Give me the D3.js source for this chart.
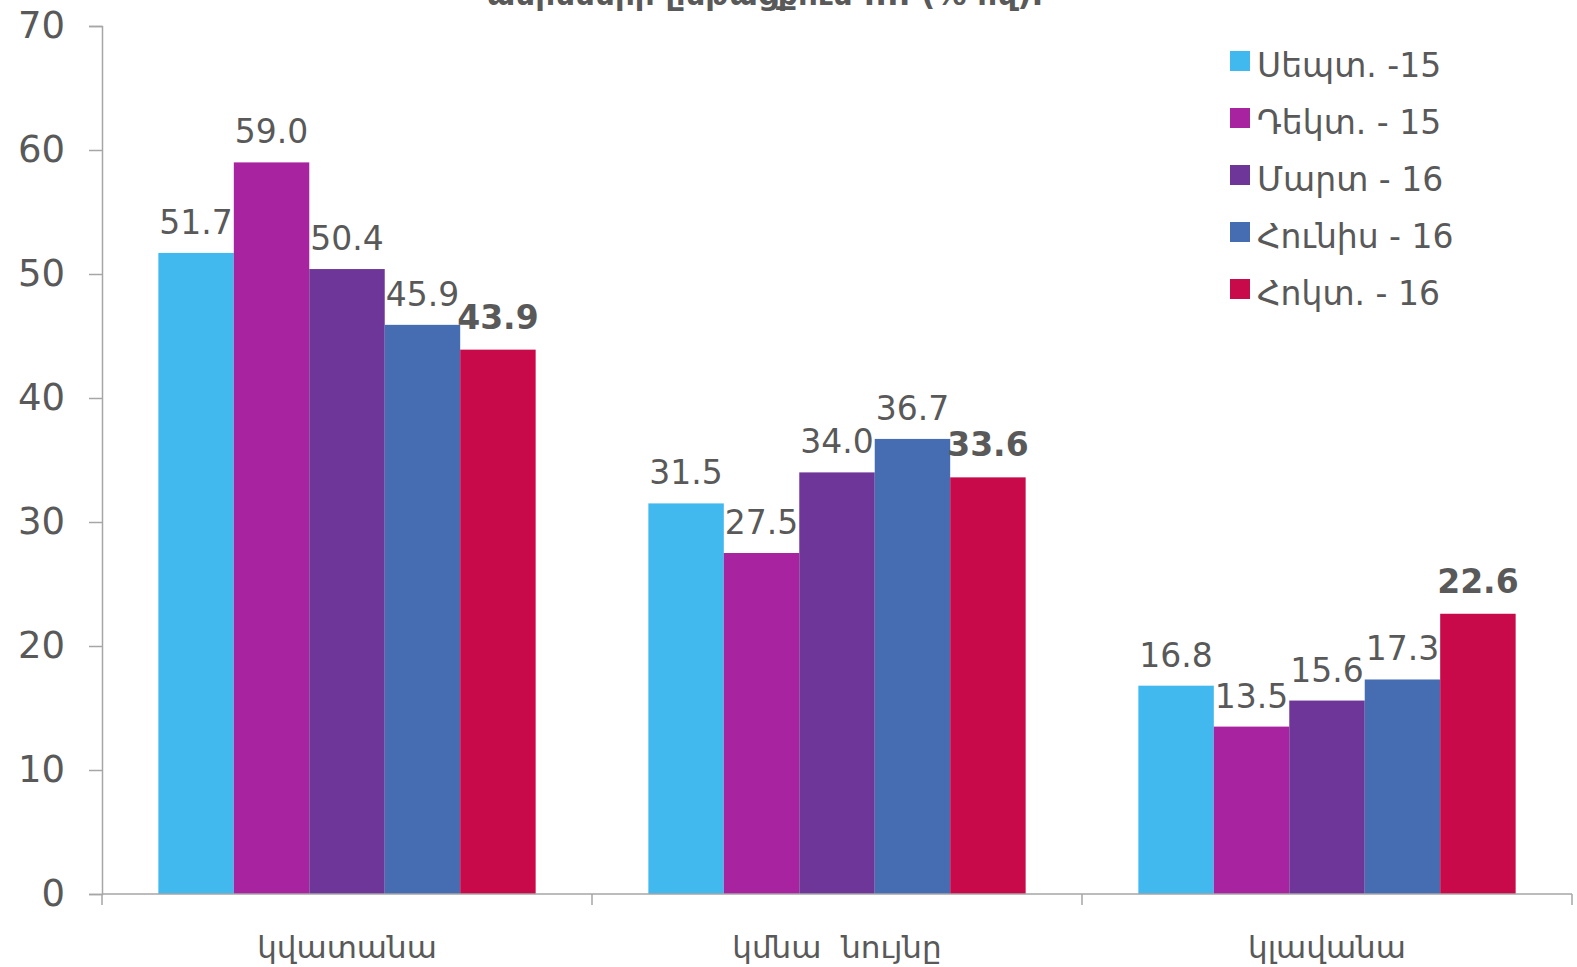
<!DOCTYPE html>
<html>
<head>
<meta charset="utf-8">
<script src="https://cdn.jsdelivr.net/npm/d3@7"></script>
<style>
  html, body { margin: 0; padding: 0; background: #fff; }
  svg { display: block; }
  text { font-family: "DejaVu Sans", "Noto Sans", sans-serif; fill: #595959; }
</style>
</head>
<body>
<svg id="chart" width="1577" height="967"></svg>
<script>
// Survey answers by category, one value per survey wave
const categories = ["կվատանա", "կմնա  նույնը", "կլավանա"];
const seriesNames = ["Սեպտ. -15", "Դեկտ. - 15", "Մարտ - 16", "Հունիս - 16", "Հոկտ. - 16"];
const seriesColors = ["#41B9EE", "#A8239F", "#6F3699", "#466DB1", "#C90A4A"];
const sept15 = [51.7, 31.5, 16.8];
const dec15  = [59.0, 27.5, 13.5];
const mar16  = [50.4, 34.0, 15.6];
const jun16  = [45.9, 36.7, 17.3];
const oct16  = [43.9, 33.6, 22.6];
const yTicks = [0, 10, 20, 30, 40, 50, 60, 70];
const titleText = "ամիսների ընթացքում .... (% ով):";

const seriesValues = [sept15, dec15, mar16, jun16, oct16];

const svg = d3.select("#chart");
const margin = { left: 102, right: 5, top: 26, bottom: 73 };
const W = 1577, H = 967;
const innerW = W - margin.left - margin.right;
const innerH = H - margin.top - margin.bottom;

const g = svg.append("g").attr("transform", `translate(${margin.left},${margin.top})`);

const x0 = d3.scaleBand().domain(categories).range([0, innerW]).paddingInner(0.23).paddingOuter(0.115);
const x1 = d3.scaleBand().domain(seriesNames).range([0, x0.bandwidth()]);
const y = d3.scaleLinear().domain([0, 70]).range([innerH, 0]);

// Title line (upper part sits above the visible area)
svg.append("text")
  .attr("x", 765).attr("y", 5)
  .attr("text-anchor", "middle")
  .style("font-size", "31px").style("font-weight", "bold")
  .text(titleText);

// Bars
const groups = g.selectAll("g.cat")
  .data(categories)
  .join("g")
  .attr("class", "cat")
  .attr("transform", d => `translate(${x0(d)},0)`);

groups.selectAll("rect")
  .data((c, ci) => seriesNames.map((s, si) => ({ s, si, v: seriesValues[si][ci] })))
  .join("rect")
  .attr("x", d => x1(d.s))
  .attr("y", d => y(d.v))
  .attr("width", x1.bandwidth())
  .attr("height", d => y(0) - y(d.v))
  .attr("fill", d => seriesColors[d.si]);

groups.selectAll("text.val")
  .data((c, ci) => seriesNames.map((s, si) => ({ s, si, v: seriesValues[si][ci] })))
  .join("text")
  .attr("class", "val")
  .attr("x", d => x1(d.s) + x1.bandwidth() / 2)
  .attr("y", d => y(d.v) - (d.si === 4 ? 21 : 19))
  .attr("text-anchor", "middle")
  .style("font-size", "33px")
  .style("font-weight", d => d.si === 4 ? "bold" : "normal")
  .text(d => d.v.toFixed(1));

// Y axis
const yAxis = g.append("g")
  .call(d3.axisLeft(y).tickValues(yTicks).tickSize(13).tickPadding(24).tickFormat(d3.format("d")));
yAxis.select(".domain").attr("stroke", "#A6A6A6").attr("stroke-width", 1.5);
yAxis.selectAll(".tick line").attr("stroke", "#A6A6A6").attr("stroke-width", 1.5);
yAxis.selectAll(".tick text")
  .attr("fill", "#595959")
  .style("font-size", "37px")
  .style("font-family", "\"DejaVu Sans\", sans-serif");

// X axis with boundary ticks between categories
const xAxisG = g.append("g").attr("transform", `translate(0,${innerH})`);
xAxisG.append("line")
  .attr("x1", 0).attr("x2", innerW)
  .attr("stroke", "#A6A6A6").attr("stroke-width", 1.5);
const boundaries = categories.map(c => x0(c) - x0.step() * x0.paddingInner() / 2).concat([innerW]);
boundaries[0] = 0;
xAxisG.selectAll("line.bt")
  .data(boundaries)
  .join("line")
  .attr("class", "bt")
  .attr("x1", d => d).attr("x2", d => d)
  .attr("y1", 0).attr("y2", 11)
  .attr("stroke", "#A6A6A6").attr("stroke-width", 1.5);
xAxisG.selectAll("text.cat")
  .data(categories)
  .join("text")
  .attr("class", "cat")
  .attr("x", d => x0(d) + x0.bandwidth() / 2)
  .attr("y", 64)
  .attr("text-anchor", "middle")
  .style("font-size", "31px")
  .attr("xml:space", "preserve")
  .text(d => d);

// Legend
const legend = svg.append("g").attr("transform", "translate(1230,51)");
const items = legend.selectAll("g")
  .data(seriesNames)
  .join("g")
  .attr("transform", (d, i) => `translate(0,${i * 57})`);
items.append("rect")
  .attr("width", 20).attr("height", 20)
  .attr("fill", (d, i) => seriesColors[i]);
items.append("text")
  .attr("x", 27).attr("y", 26)
  .style("font-size", "33px")
  .text(d => d);
</script>
</body>
</html>
